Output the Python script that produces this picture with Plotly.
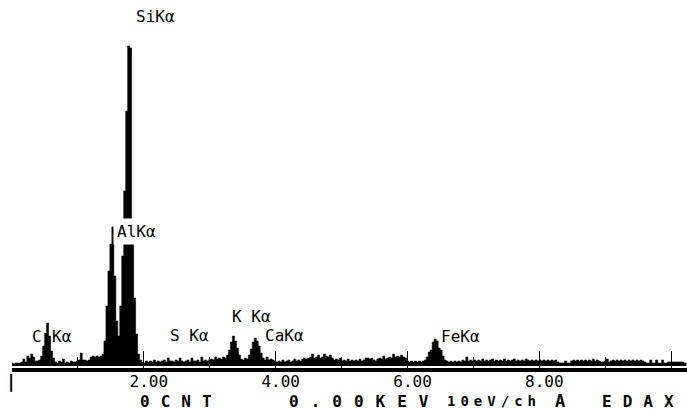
import plotly.graph_objects as go

# EDAX spectrum, 30 eV bins, relative counts
channel_width_kev = 0.03
counts = [
    3, 2, 3, 3, 3, 4, 7, 4, 10, 8,
    12, 9, 5, 5, 6, 10, 20, 33, 43, 30,
    15, 8, 4, 3, 5, 4, 7, 3, 4, 3,
    5, 4, 4, 5, 6, 13, 6, 6, 5, 6,
    9, 10, 9, 10, 9, 10, 12, 25, 60, 95,
    122, 139, 90, 45, 30, 60, 110, 175, 255, 320,
    318, 130, 68, 32, 12, 6, 4, 3, 5, 4,
    5, 4, 6, 4, 5, 4, 5, 6, 4, 8,
    5, 5, 4, 6, 5, 8, 5, 4, 5, 6,
    4, 8, 5, 5, 6, 4, 9, 5, 6, 5,
    6, 7, 6, 9, 7, 8, 7, 9, 8, 11,
    16, 24, 30, 25, 18, 11, 7, 6, 8, 7,
    11, 17, 24, 28, 25, 20, 13, 8, 6, 9,
    6, 7, 6, 5, 4, 5, 4, 6, 4, 5,
    6, 4, 5, 7, 5, 6, 5, 7, 8, 7,
    8, 9, 12, 8, 9, 11, 8, 9, 12, 10,
    9, 11, 8, 6, 7, 6, 8, 5, 6, 5,
    7, 5, 6, 5, 6, 5, 7, 5, 6, 8,
    8, 7, 8, 6, 5, 7, 8, 7, 10, 7,
    8, 9, 8, 12, 9, 10, 9, 11, 9, 8,
    5, 4, 5, 4, 5, 4, 5, 4, 5, 6,
    9, 14, 16, 24, 27, 25, 18, 16, 10, 6,
    5, 4, 5, 4, 5, 4, 5, 4, 6, 5,
    9, 5, 6, 5, 6, 5, 6, 5, 7, 5,
    6, 5, 6, 7, 5, 6, 5, 6, 5, 7,
    5, 6, 5, 6, 7, 5, 6, 5, 6, 5,
    7, 6, 5, 6, 5, 6, 5, 6, 5, 6,
    5, 6, 5, 6, 5, 6, 4, 3, 3, 3,
    5, 3, 3, 5, 6, 5, 6, 5, 6, 5,
    6, 5, 6, 5, 7, 5, 6, 5, 4, 4,
    5, 7, 4, 5, 6, 5, 6, 5, 6, 5,
    6, 5, 6, 5, 6, 5, 6, 5, 6, 5,
    4, 3, 3, 6, 3, 3, 6, 3, 3, 6,
    3, 3, 4, 4, 4, 4, 4, 4, 4, 4,
    3, 3,
]
energies = [round(i * channel_width_kev, 3) for i in range(len(counts))]

# peak labels: (text, energy keV, height)
peak_labels = [
    ("SiKα", 2.18, 350),
    ("AlKα", 1.89, 135),
    ("C", 0.38, 30),
    ("Kα", 0.76, 30),
    ("S Kα", 2.69, 31),
    ("K Kα", 3.64, 50),
    ("CaKα", 4.13, 31),
    ("FeKα", 6.81, 30),
]

tick_values = [0, 2, 4, 6, 8, 10]
tick_labels = ["", "2.00", "4.00", "6.00", "8.00", ""]
minor_tick_values = [1, 3, 5, 7, 9]

# status line under the axis: (text, left position px, font size, letter spacing)
status_items = [
    ("0CNT", 138, 16, 11),
    ("0.00KEV", 287, 16, 12),
    ("10eV/ch", 445, 14, 5),
    ("A", 553, 17, 0),
    ("EDAX", 600, 16, 11),
]

W, H = 687, 410
ML, MR, MT, MB = 12, 0, 0, 42
PW = W - ML - MR
PH = H - MT - MB

fig = go.Figure()
fig.add_trace(go.Scatter(
    x=energies, y=counts, mode="lines",
    line=dict(color="black", width=0.6, shape="hvh"),
    fill="tozeroy", fillcolor="black", hoverinfo="skip", showlegend=False,
))

mono = "DejaVu Sans Mono"
for text, ex, cy in peak_labels:
    fig.add_annotation(
        x=ex, y=cy, xref="x", yref="y", text=text, showarrow=False,
        font=dict(family=mono, size=16, color="black"),
        bgcolor="white" if text == "AlKα" else "rgba(0,0,0,0)",
        borderpad=3 if text == "AlKα" else 0,
    )

for text, px, size, ls in status_items:
    fig.add_annotation(
        x=(px - ML) / PW, y=(PH - 401) / PH, xref="paper", yref="paper",
        xanchor="left", yanchor="middle", showarrow=False,
        text=f'<span style="letter-spacing:{ls}px;font-weight:bold">{text}</span>',
        font=dict(family=mono, size=size, color="black"),
    )

# zero marker below the axis
fig.add_annotation(
    x=0, y=(PH - 394) / PH, xref="x", yref="paper", text="<b>|</b>", showarrow=False,
    xshift=-1, font=dict(family=mono, size=17, color="black"),
)

fig.update_layout(
    width=W, height=H, autosize=False,
    margin=dict(l=ML, r=MR, t=MT, b=MB),
    paper_bgcolor="white", plot_bgcolor="white",
    showlegend=False,
    xaxis=dict(
        range=[0, 10.24], showgrid=False, zeroline=False,
        showline=True, linecolor="black", linewidth=4,
        tickmode="array", tickvals=tick_values, ticktext=tick_labels,
        ticks="inside", ticklen=17, tickwidth=1, tickcolor="black",
        ticklabelshift=5, ticklabelstandoff=-4,
        tickfont=dict(family=mono, size=16, color="black"),
        minor=dict(tickmode="array", tickvals=minor_tick_values,
                   ticks="inside", ticklen=11, tickwidth=1, tickcolor="black"),
    ),
    yaxis=dict(range=[-2, 366], visible=False, showgrid=False, zeroline=False),
)

fig.write_html(
    "out.html",
    config={"displayModeBar": False},
    post_script="document.body.style.margin='0';document.body.style.padding='0';",
)
